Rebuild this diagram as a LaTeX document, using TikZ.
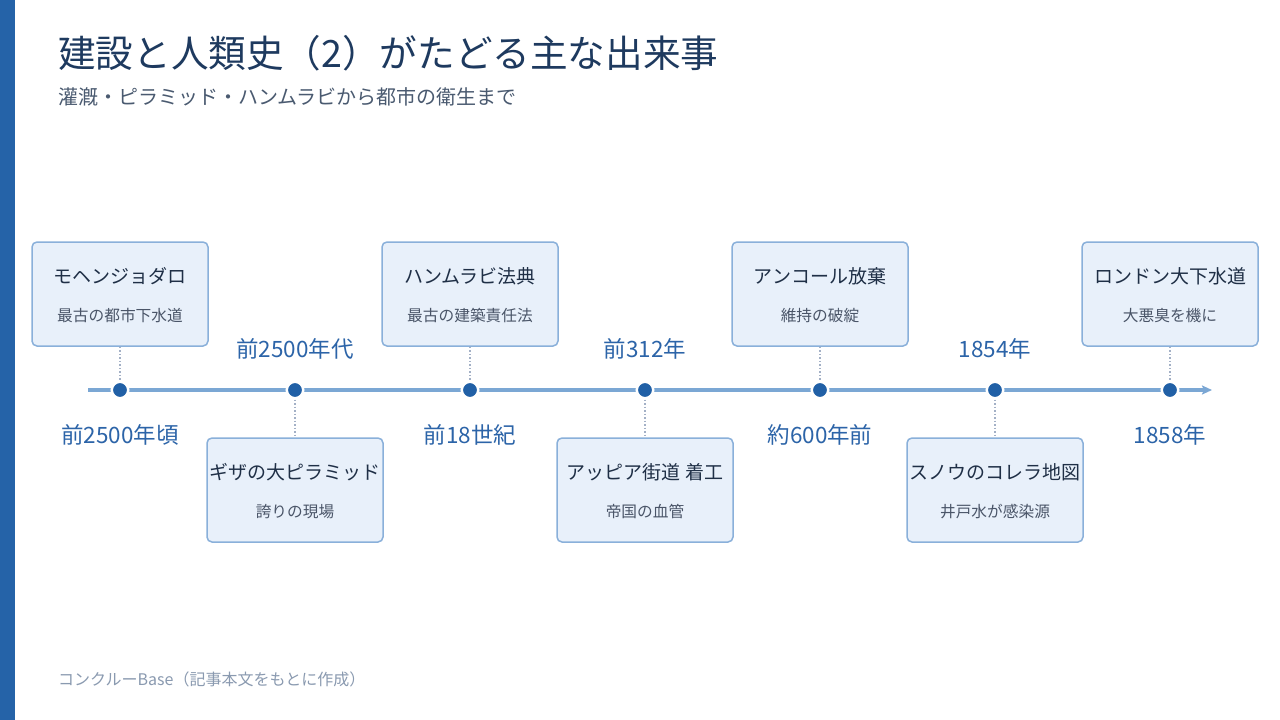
\documentclass[tikz,border=0pt]{standalone}
\usepackage{fontspec}
\setmainfont{Noto Sans CJK JP}
\usetikzlibrary{arrows.meta}
\definecolor{barblue}{HTML}{2563A8}
\definecolor{titlecol}{HTML}{1E3A5F}
\definecolor{subcol}{HTML}{4A5A70}
\definecolor{linecol}{HTML}{7BA7D4}
\definecolor{dotcol}{HTML}{2160A6}
\definecolor{datecol}{HTML}{2C64A8}
\definecolor{boxfill}{HTML}{E8F0FA}
\definecolor{boxdraw}{HTML}{8AB0DA}
\definecolor{boxtitle}{HTML}{1F2F46}
\definecolor{boxsub}{HTML}{4A5568}
\definecolor{conncol}{HTML}{A3B0C6}
\definecolor{footcol}{HTML}{8A9AB0}
\tikzset{
  evbox/.style={draw=boxdraw, fill=boxfill, line width=1.5pt, rounded corners=5pt,
    minimum width=176pt, minimum height=104pt, inner sep=0pt},
  evtitle/.style={anchor=base, inner sep=0pt, text=boxtitle, font=\fontsize{19pt}{21pt}\selectfont},
  evsub/.style={anchor=base, inner sep=0pt, text=boxsub, font=\fontsize{15.7pt}{17pt}\selectfont},
  evdate/.style={anchor=base, inner sep=0pt, text=datecol, font=\fontsize{22.5pt}{24pt}\selectfont},
  evdot/.style={circle, fill=dotcol, draw=white, line width=2.5pt, minimum size=16.5pt, inner sep=0pt},
  conn/.style={draw=conncol, line width=1.2pt, dash pattern=on 1.5pt off 2pt},
  tl/.style={draw=linecol, line width=4pt, -{Stealth[length=10pt,width=9pt,inset=2pt]}}
}
\begin{document}
\begin{tikzpicture}[x=1pt,y=-1pt]
\useasboundingbox (0,0) rectangle (1280,720);
\fill[white] (0,0) rectangle (1280,720);
\fill[barblue] (0,0) rectangle (15,720);
\node[anchor=base west, inner sep=0pt, text=titlecol, font=\fontsize{37.6pt}{42pt}\selectfont] (title) at (58,67) {建設と人類史（2）がたどる主な出来事};
\node[anchor=base west, inner sep=0pt, text=subcol, font=\fontsize{20pt}{23pt}\selectfont] (subtitle) at (58,104) {灌漑・ピラミッド・ハンムラビから都市の衛生まで};
\node[anchor=base west, inner sep=0pt, text=footcol, font=\fontsize{16pt}{18pt}\selectfont] (foot) at (58,685) {コンクルーBase（記事本文をもとに作成）};
\coordinate (ls) at (88,390);
\coordinate (le) at (1212,390);
\draw[tl] (ls) -- (le);
% top events
\foreach \n/\x/\ti/\su/\da in {1/120/モヘンジョダロ/最古の都市下水道/前2500年頃, 3/470/ハンムラビ法典/最古の建築責任法/前18世紀, 5/820/アンコール放棄/維持の破綻/約600年前, 7/1170/ロンドン大下水道/大悪臭を機に/1858年}{
  \node[evbox] (b\n) at (\x,294) {};
  \node[evtitle] (bt\n) at (\x,283) {\ti};
  \node[evsub] (bs\n) at (\x,321) {\su};
  \node[evdot] (d\n) at (\x,390) {};
  \node[evdate] (t\n) at (\x,443) {\da};
  \draw[conn] (b\n.south) -- (d\n.north);
}
% bottom events
\foreach \n/\x/\ti/\su/\da in {2/295/ギザの大ピラミッド/誇りの現場/前2500年代, 4/645/アッピア街道 着工/帝国の血管/前312年, 6/995/スノウのコレラ地図/井戸水が感染源/1854年}{
  \node[evbox] (b\n) at (\x,490) {};
  \node[evtitle] (bt\n) at (\x,479) {\ti};
  \node[evsub] (bs\n) at (\x,517) {\su};
  \node[evdot] (d\n) at (\x,390) {};
  \node[evdate] (t\n) at (\x,357) {\da};
  \draw[conn] (d\n.south) -- (b\n.north);
}
\end{tikzpicture}
\end{document}
